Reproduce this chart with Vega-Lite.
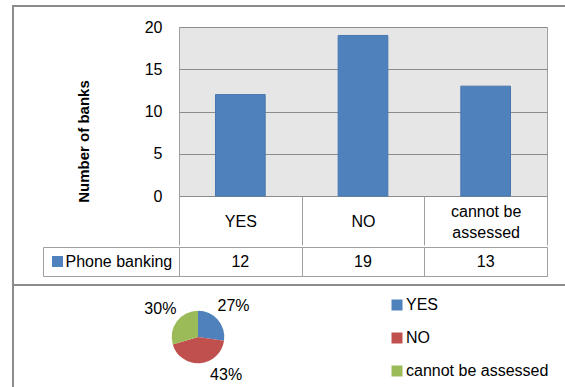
{
  "$schema": "https://vega.github.io/schema/vega-lite/v6.json",
  "padding": {"left": 12, "top": 5, "right": 0, "bottom": 0},
  "config": {
    "font": "Liberation Sans",
    "view": {"stroke": null},
    "axis": {"labelColor": "#000000", "titleColor": "#000000", "labelFontSize": 16}
  },
  "datasets": {
    "banks": [
      {"answer": "YES", "banks": 12, "share": "27%", "series": "Phone banking", "order": 1},
      {"answer": "NO", "banks": 19, "share": "43%", "series": "Phone banking", "order": 2},
      {"answer": "cannot be assessed", "banks": 13, "share": "30%", "series": "Phone banking", "order": 3}
    ],
    "none": []
  },
  "spacing": 0,
  "hconcat": [
    {
      "width": 2, "height": 382,
      "data": {"name": "none"},
      "view": {"fill": "#8c8c8c", "stroke": null},
      "mark": "point"
    },
    {
      "spacing": 11,
      "vconcat": [
        {
          "width": 551, "height": 2,
          "data": {"name": "none"},
          "view": {"fill": "#8c8c8c", "stroke": null},
          "mark": "point"
        },
        {
          "spacing": 0,
          "vconcat": [
            {
              "spacing": 0,
              "hconcat": [
                {
                  "width": 28, "height": 257,
                  "data": {"name": "none"},
                  "mark": "point"
                },
                {
                  "spacing": 0,
                  "resolve": {"scale": {"color": "independent"}, "legend": {"color": "independent"}},
                  "vconcat": [
                    {
                      "width": 368,
                      "height": 169,
                      "data": {"name": "banks"},
                      "view": {"fill": "#e6e6e6", "stroke": "#a0a0a0"},
                      "mark": {"type": "bar", "width": {"band": 0.405}, "color": "#4f81bd", "stroke": "#4677b0", "strokeWidth": 1},
                      "encoding": {
                        "x": {
                          "field": "answer", "type": "nominal", "sort": null,
                          "scale": {"paddingInner": 0, "paddingOuter": 0},
                          "axis": {
                            "title": null, "labelAngle": 0, "domain": false, "grid": false,
                            "tickBand": "extent", "tickSize": 49, "tickColor": "#a0a0a0",
                            "labelPadding": -34, "labelLineHeight": 21.6, "labelLimit": 0,
                            "labelBaseline": {"condition": {"test": "datum.label == 'cannot be assessed'", "value": "middle"}, "value": "line-top"},
                            "labelExpr": "datum.label == 'cannot be assessed' ? ['cannot be', 'assessed'] : datum.label"
                          }
                        },
                        "y": {
                          "field": "banks", "type": "quantitative",
                          "scale": {"domain": [0, 20], "nice": false},
                          "axis": {
                            "values": [0, 5, 10, 15, 20], "domain": false, "ticks": false,
                            "grid": true, "gridColor": "#8c8c8c", "labelPadding": 17,
                            "title": "Number of banks", "titleFontSize": 15, "titleFontWeight": "bold",
                            "titleX": -96, "titleY": 114, "titleBaseline": "middle", "titleAlign": "center", "titleAngle": -90
                          }
                        }
                      }
                    },
                    {
                      "width": 368,
                      "height": 29,
                      "data": {"name": "banks"},
                      "view": {"stroke": "#a0a0a0"},
                      "layer": [
                        {
                          "mark": {"type": "text", "fontSize": 16, "color": "#000000"},
                          "encoding": {
                            "x": {
                              "field": "answer", "type": "nominal", "sort": null,
                              "scale": {"paddingInner": 0, "paddingOuter": 0},
                              "axis": {"title": null, "labels": false, "ticks": false, "domain": false, "grid": true, "tickBand": "extent", "gridColor": "#a0a0a0", "gridOpacity": 1}
                            },
                            "text": {"field": "banks", "type": "quantitative"}
                          }
                        },
                        {
                          "mark": {"type": "point", "shape": "square", "filled": true, "opacity": 0},
                          "encoding": {
                            "x": {"field": "answer", "type": "nominal", "sort": null},
                            "color": {
                              "field": "series", "type": "nominal",
                              "scale": {"range": ["#4f81bd"]},
                              "legend": {
                                "title": null, "orient": "left", "offset": 0, "padding": 6.5,
                                "strokeColor": "#a0a0a0", "symbolType": "square", "symbolSize": 121,
                                "symbolOpacity": 1, "symbolStrokeWidth": 0, "labelFontSize": 16,
                                "labelColor": "#000000", "labelOffset": 0, "labelLimit": 0
                              }
                            }
                          }
                        }
                      ]
                    }
                  ]
                }
              ]
            },
            {
              "width": 551, "height": 2,
              "data": {"name": "none"},
              "view": {"fill": "#8c8c8c", "stroke": null},
              "mark": "point"
            },
            {
              "spacing": 0,
              "hconcat": [
                {
                  "width": 127, "height": 4,
                  "data": {"name": "none"},
                  "mark": "point"
                },
                {
                  "spacing": 0,
                  "resolve": {"scale": {"color": "independent"}, "legend": {"color": "independent"}},
                  "vconcat": [
                    {
                      "width": 1, "height": 4,
                      "data": {"name": "none"},
                      "mark": "point"
                    },
                    {
                      "width": 114,
                      "height": 94,
                      "data": {"name": "banks"},
                      "layer": [
                        {
                          "mark": {"type": "arc", "outerRadius": 26.3},
                          "encoding": {
                            "theta": {"field": "banks", "type": "quantitative", "stack": true},
                            "order": {"field": "order"},
                            "color": {
                              "field": "answer", "type": "nominal",
                              "scale": {"domain": ["YES", "NO", "cannot be assessed"], "range": ["#4f81bd", "#c0504d", "#9bbb59"]},
                              "legend": {
                                "title": null, "orient": "right", "offset": 127, "padding": 7,
                                "symbolType": "square", "symbolSize": 121, "symbolStrokeWidth": 0,
                                "labelFontSize": 16, "labelColor": "#000000", "rowPadding": 17, "labelOffset": 1, "labelLimit": 0
                              }
                            }
                          }
                        },
                        {
                          "mark": {"type": "text", "radius": 47, "fontSize": 16, "color": "#000000",
                                   "thetaOffset": {"expr": "datum.answer == 'NO' ? -0.57 : 0"}},
                          "encoding": {
                            "theta": {"field": "banks", "type": "quantitative", "stack": true},
                            "order": {"field": "order"},
                            "detail": {"field": "answer"},
                            "text": {"field": "share"}
                          }
                        }
                      ]
                    }
                  ]
                }
              ]
            }
          ]
        }
      ]
    }
  ]
}
